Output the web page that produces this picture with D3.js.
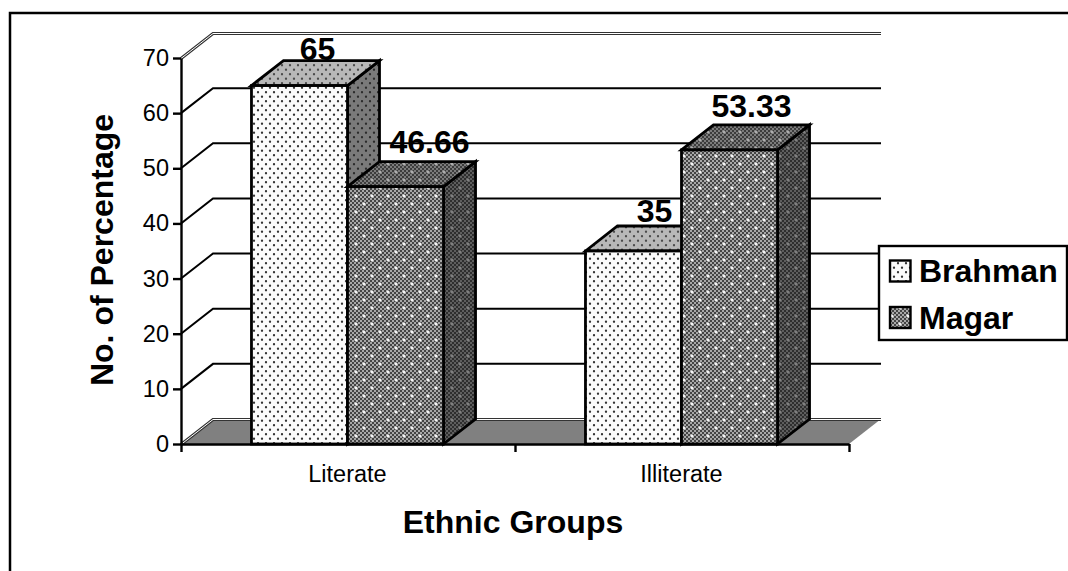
<!DOCTYPE html>
<html>
<head>
<meta charset="utf-8">
<script src="https://cdnjs.cloudflare.com/ajax/libs/d3/7.8.5/d3.min.js"></script>
<style>
  html, body { margin: 0; padding: 0; background: #fff; overflow: hidden; }
  svg { display: block; font-family: "Liberation Sans", Arial, sans-serif; }
</style>
</head>
<body>
<svg id="chart" width="1068" height="571"></svg>
<script>
const categories = ["Literate", "Illiterate"];
const seriesNames = ["Brahman", "Magar"];
const brahmanValues = [65, 35];
const magarValues = [46.66, 53.33];
const brahmanLabels = ["65", "35"];
const magarLabels = ["46.66", "53.33"];
const yTicks = [0, 10, 20, 30, 40, 50, 60, 70];

const svg = d3.select("#chart");
const plot = { left: 181, right: 849, top: 58, bottom: 444 };
const depth = { x: 32, y: -25 };

const y = d3.scaleLinear().domain([0, 70]).range([plot.bottom, plot.top]);
const x0 = d3.scaleBand().domain(categories).range([plot.left - 0.5, plot.right - 0.5])
  .paddingInner(0.425).paddingOuter(0.2125);
const x1 = d3.scaleBand().domain(seriesNames).range([0, x0.bandwidth()]);

// Fill patterns for the faces of the 3-D columns
const defs = svg.append("defs");

function dotPattern(id, bg, dot, w, h, r) {
  const p = defs.append("pattern").attr("id", id).attr("patternUnits", "userSpaceOnUse")
    .attr("width", w).attr("height", h);
  p.append("rect").attr("width", w).attr("height", h).attr("fill", bg);
  [[w / 4, h / 4], [3 * w / 4, 3 * h / 4]].forEach(([cx, cy]) =>
    p.append("circle").attr("cx", cx).attr("cy", cy).attr("r", r).attr("fill", dot));
}

function checkPattern(id, a, b, spot) {
  const cell = 2, n = 8;
  const p = defs.append("pattern").attr("id", id).attr("patternUnits", "userSpaceOnUse")
    .attr("width", cell * n * 2).attr("height", cell * n);
  p.append("rect").attr("width", cell * n * 2).attr("height", cell * n).attr("fill", a);
  d3.range(n * 2).forEach(i => d3.range(n).forEach(j => {
    if ((i + j) % 2 === 0) {
      p.append("rect").attr("x", i * cell).attr("y", j * cell)
        .attr("width", cell).attr("height", cell).attr("fill", b);
    }
  }));
  [[4, 4], [20, 4], [12, 12], [28, 12]].forEach(([cx, cy]) =>
    p.append("path").attr("d", `M${cx - 1.5},${cy}h3M${cx},${cy - 1.5}v3`)
      .attr("stroke", spot).attr("stroke-width", 1.4));
}

dotPattern("brahman-front", "#fbfbfb", "#333333", 8, 9, 1.15);
dotPattern("brahman-top", "#b8b8b8", "#4a4a4a", 8, 9, 1.15);
dotPattern("brahman-side", "#7a7a7a", "#2a2a2a", 8, 9, 1.15);
checkPattern("magar-front", "#444444", "#a8a8a8", "#ffffff");
checkPattern("magar-top", "#3c3c3c", "#7c7c7c", "#b4b4b4");
checkPattern("magar-side", "#2e2e2e", "#5e5e5e", "#848484");

// Chart frame: only the top and left edges fall inside the page
svg.append("path").attr("d", "M10,571V13H1068")
  .attr("fill", "none").attr("stroke", "#000").attr("stroke-width", 2.5);

// Floor of the chart
const floor = d3.path();
floor.moveTo(plot.left, plot.bottom);
floor.lineTo(plot.left + depth.x, plot.bottom + depth.y);
floor.lineTo(plot.right + depth.x, plot.bottom + depth.y);
floor.lineTo(plot.right, plot.bottom);
floor.closePath();
svg.append("path").attr("d", floor.toString()).attr("fill", "#808080");

// Back-wall gridlines with their receding stubs on the side wall
const grid = svg.append("g").attr("fill", "none");
yTicks.forEach(t => {
  const yy = y(t);
  const wall = `M${plot.left},${yy}L${plot.left + depth.x},${yy + depth.y}L${plot.right + depth.x},${yy + depth.y}`;
  if (t === 0 || t === 70) {
    // The top and floor edges of the wall are double rules; half-pixel shift keeps them crisp
    const edge = grid.append("g").attr("transform", "translate(0,0.5)");
    edge.append("path").attr("d", wall).attr("stroke", "#333").attr("stroke-width", 3);
    edge.append("path").attr("d", wall).attr("stroke", "#fff").attr("stroke-width", 1);
  } else {
    grid.append("path").attr("d", wall).attr("stroke", "#000").attr("stroke-width", 2);
  }
});

// Axes
const yAxis = svg.append("g").attr("transform", `translate(${plot.left},0)`)
  .call(d3.axisLeft(y).tickValues(yTicks).tickSize(8).tickPadding(4).tickSizeOuter(0));
const xAxis = svg.append("g").attr("transform", `translate(0,${plot.bottom})`)
  .call(d3.axisBottom(d3.scaleLinear().domain([0, 2]).range([plot.left, plot.right]))
    .tickValues([0, 1, 2]).tickSize(8).tickFormat("").tickSizeOuter(0));
[yAxis, xAxis].forEach(a => {
  a.selectAll("path, line").attr("stroke", "#000").attr("stroke-width", 2.4);
  a.selectAll("text").attr("fill", "#000");
});
yAxis.selectAll("text").attr("font-family", "Liberation Sans").attr("font-size", 23.5);

// Columns, drawn as side, top and front faces
const series = [
  { name: seriesNames[0], values: brahmanValues, key: "brahman", labels: brahmanLabels, nudgeX: [-14, -11], nudgeY: [-1, -4] },
  { name: seriesNames[1], values: magarValues, key: "magar", labels: magarLabels, nudgeX: [2, -10], nudgeY: [-9, -7.5] }
];

categories.forEach((cat, ci) => {
  series.forEach(s => {
    const v = s.values[ci];
    const xa = x0(cat) + x1(s.name);
    const xb = xa + x1.bandwidth();
    const yt = y(v), yb = y(0);
    const g = svg.append("g").attr("stroke", "#000").attr("stroke-width", 2.8).attr("stroke-linejoin", "miter");
    g.append("path")
      .attr("d", `M${xb},${yb}L${xb + depth.x},${yb + depth.y}L${xb + depth.x},${yt + depth.y}L${xb},${yt}Z`)
      .attr("fill", `url(#${s.key}-side)`);
    g.append("path")
      .attr("d", `M${xa},${yt}L${xa + depth.x},${yt + depth.y}L${xb + depth.x},${yt + depth.y}L${xb},${yt}Z`)
      .attr("fill", `url(#${s.key}-top)`);
    g.append("rect").attr("x", xa).attr("y", yt).attr("width", xb - xa).attr("height", yb - yt)
      .attr("fill", `url(#${s.key}-front)`);
  });
});

// Value labels sit above the top face of each column
categories.forEach((cat, ci) => {
  series.forEach(s => {
    const v = s.values[ci];
    const cx = x0(cat) + x1(s.name) + x1.bandwidth() / 2 + depth.x + s.nudgeX[ci];
    svg.append("text").attr("x", cx).attr("y", y(v) + depth.y + s.nudgeY[ci])
      .attr("text-anchor", "middle").attr("font-size", 32).attr("font-weight", "bold")
      .text(s.labels[ci]);
  });
});

// Category labels
categories.forEach(cat => {
  svg.append("text").attr("x", x0(cat) + x0.bandwidth() / 2).attr("y", 482)
    .attr("text-anchor", "middle").attr("font-size", 23.5).text(cat);
});

// Axis titles
svg.append("text").attr("x", 513).attr("y", 533).attr("text-anchor", "middle")
  .attr("font-size", 32).attr("font-weight", "bold").text("Ethnic Groups");
svg.append("text").attr("transform", "translate(113,250) rotate(-90)").attr("text-anchor", "middle")
  .attr("font-size", 32).attr("font-weight", "bold").text("No. of Percentage");

// Legend
const legend = svg.append("g");
legend.append("rect").attr("x", 879).attr("y", 246).attr("width", 188).attr("height", 94)
  .attr("fill", "#fff").attr("stroke", "#000").attr("stroke-width", 2.4);
series.forEach((s, i) => {
  const rowY = 271 + i * 46.5;
  legend.append("rect").attr("x", 890).attr("y", rowY - 10.5).attr("width", 20.5).attr("height", 21)
    .attr("fill", `url(#${s.key}-front)`).attr("stroke", "#000").attr("stroke-width", 2.4);
  legend.append("text").attr("x", 919).attr("y", rowY + 11).attr("font-size", 32)
    .attr("font-weight", "bold").text(s.name);
});
</script>
</body>
</html>
